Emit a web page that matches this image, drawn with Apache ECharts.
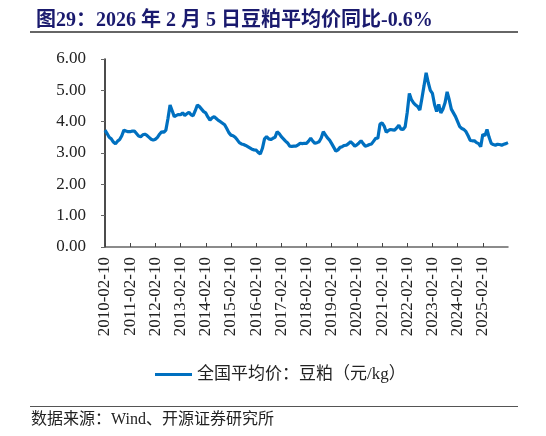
<!DOCTYPE html>
<html>
<head>
<meta charset="utf-8">
<script src="https://cdn.jsdelivr.net/npm/echarts@6/dist/echarts.min.js"></script>
<style>
  html, body { margin: 0; padding: 0; background: #fff; }
  #main { width: 546px; height: 436px; }
</style>
</head>
<body>
<div id="main"></div>
<script>
// 年度刻度标签
var tickLabels = ['2010-02-10','2011-02-10','2012-02-10','2013-02-10','2014-02-10','2015-02-10',
  '2016-02-10','2017-02-10','2018-02-10','2019-02-10','2020-02-10','2021-02-10',
  '2022-02-10','2023-02-10','2024-02-10','2025-02-10'];

// 月度日期（最后一个点为 2026-02-05）
var dates = [];
for (var y = 2010; y <= 2026; y++) {
  for (var m = 1; m <= 12; m++) {
    if (y === 2010 && m < 2) continue;
    if (y === 2026 && m > 1) continue;
    dates.push(y + '-' + (m < 10 ? '0' + m : m) + '-10');
  }
}
dates.push('2026-02-05');

// 全国平均价：豆粕（元/kg）
var price = [
  3.73,3.62,3.50,3.45,3.35,3.29,3.38,3.43,3.55,3.73,3.70,3.68,
  3.68,3.70,3.70,3.62,3.54,3.52,3.58,3.60,3.56,3.50,3.44,3.41,
  3.44,3.50,3.60,3.68,3.66,3.73,4.10,4.53,4.35,4.16,4.20,4.23,
  4.22,4.28,4.20,4.25,4.30,4.22,4.19,4.35,4.53,4.48,4.40,4.32,
  4.28,4.15,4.05,4.12,4.16,4.10,4.04,4.00,3.95,3.90,3.78,3.65,
  3.57,3.55,3.50,3.42,3.33,3.29,3.27,3.24,3.20,3.16,3.12,3.10,
  3.09,3.02,2.97,3.15,3.45,3.52,3.45,3.43,3.47,3.50,3.68,3.62,
  3.52,3.45,3.38,3.32,3.22,3.21,3.22,3.22,3.26,3.31,3.30,3.31,
  3.31,3.38,3.47,3.38,3.31,3.33,3.36,3.48,3.68,3.58,3.48,3.41,
  3.30,3.18,3.06,3.10,3.18,3.20,3.24,3.25,3.30,3.36,3.30,3.22,
  3.26,3.32,3.39,3.30,3.22,3.24,3.27,3.29,3.38,3.47,3.47,3.92,
  3.96,3.86,3.66,3.72,3.75,3.74,3.73,3.80,3.89,3.76,3.75,3.84,
  4.30,4.90,4.70,4.60,4.53,4.48,4.37,4.75,5.15,5.56,5.25,5.00,
  4.90,4.55,4.32,4.55,4.28,4.40,4.60,4.95,4.70,4.40,4.28,4.16,
  4.00,3.84,3.78,3.75,3.68,3.55,3.40,3.39,3.39,3.33,3.30,3.20,
  3.60,3.55,3.75,3.50,3.31,3.27,3.25,3.28,3.27,3.25,3.28,3.30,
  3.33
];

var serif = '"Liberation Serif", "Noto Sans CJK SC", serif';

var chart = echarts.init(document.getElementById('main'));

var option = {
  backgroundColor: '#fff',
  animation: false,
  title: {
    text: '图29：2026 年 2 月 5 日豆粕平均价同比-0.6%',
    left: 31,
    top: 6,
    textStyle: {
      color: '#1a1a6e',
      fontSize: 20,
      fontWeight: 'bold',
      fontFamily: serif
    }
  },
  graphic: [
    { type: 'line', shape: { x1: 30, y1: 32, x2: 518, y2: 32 }, style: { stroke: '#333', lineWidth: 1.5 } },
    { type: 'line', shape: { x1: 30, y1: 406.5, x2: 518, y2: 406.5 }, style: { stroke: '#555', lineWidth: 1.2 } },
    {
      type: 'text', left: 31, top: 412,
      style: { text: '数据来源：Wind、开源证券研究所', fill: '#222', fontSize: 16, fontFamily: serif }
    }
  ],
  legend: {
    data: ['全国平均价：豆粕（元/kg）'],
    top: 361,
    left: 150,
    icon: 'rect',
    itemWidth: 37,
    itemHeight: 3,
    itemGap: 5,
    textStyle: { color: '#222', fontSize: 17, fontFamily: serif }
  },
  grid: { left: 105, right: 38, top: 59, bottom: 189, containLabel: false },
  xAxis: {
    type: 'category',
    data: dates,
    boundaryGap: false,
    axisLine: { lineStyle: { color: '#666', width: 1.5 } },
    axisTick: {
      inside: true,
      length: 4,
      lineStyle: { color: '#444' },
      interval: function (i, v) { return tickLabels.indexOf(v) >= 0; }
    },
    axisLabel: {
      rotate: 90,
      margin: 10,
      color: '#222',
      fontSize: 17,
      fontFamily: serif,
      interval: function (i, v) { return tickLabels.indexOf(v) >= 0; }
    }
  },
  yAxis: {
    type: 'value',
    min: 0,
    max: 6,
    interval: 1,
    splitLine: { show: false },
    axisLine: { show: true, lineStyle: { color: '#111', width: 1.5 } },
    axisTick: { show: true, length: 4, lineStyle: { color: '#666' } },
    axisLabel: {
      margin: 19,
      color: '#222',
      fontSize: 17,
      fontFamily: serif,
      formatter: function (v) { return v.toFixed(2); }
    }
  },
  series: [{
    name: '全国平均价：豆粕（元/kg）',
    type: 'line',
    data: price,
    showSymbol: false,
    lineStyle: { color: '#0070C0', width: 3.2 },
    itemStyle: { color: '#0070C0' }
  }]
};

chart.setOption(option);
</script>
</body>
</html>
